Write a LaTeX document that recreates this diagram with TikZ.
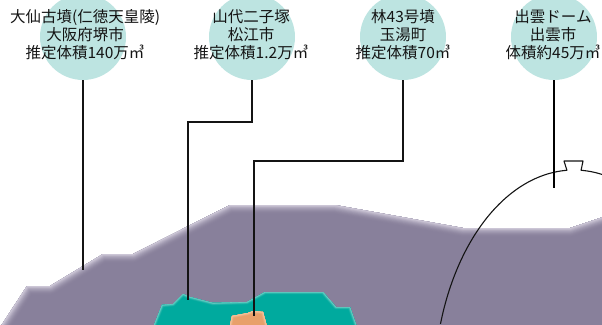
\documentclass[tikz,border=0pt]{standalone}
\usepackage{fontspec}
\newfontfamily\jp{Noto Sans CJK JP}
\usetikzlibrary{positioning}

\definecolor{bubble}{RGB}{189,228,225}
\definecolor{hill}{RGB}{136,128,155}
\definecolor{hillEdge}{RGB}{204,198,214}
\definecolor{pond}{RGB}{0,170,158}
\definecolor{pondEdge}{RGB}{110,205,196}
\definecolor{mound}{RGB}{232,160,106}
\definecolor{moundEdge}{RGB}{244,198,160}
\definecolor{ink}{RGB}{20,20,20}

% filled outline whose rim fades to a lighter colour (#4 = rim width)
\newcommand{\softshape}[4]{%
  \begin{scope}
    \clip #3;
    \fill[#1] #3;
    \foreach \i in {1,...,10}{
      \pgfmathsetmacro\w{#4*(11-\i)/5}
      \pgfmathsetmacro\m{\i*\i}
      \draw[line width=\w pt, #2!\m!#1, line join=round] #3;
    }
  \end{scope}}

\begin{document}
\begin{tikzpicture}[
  x=1pt, y=-1pt,
  bubble/.style={
    circle,
    fill=bubble,
    minimum size=86pt,
    inner sep=0pt
  },
  caption/.style={
    align=center,
    text=ink,
    inner sep=0pt,
    font=\jp\fontsize{15.5}{18}\selectfont
  },
  leader/.style={
    draw=ink,
    line width=1.1pt
  }
]
\useasboundingbox (0,0) rectangle (602,324);
\clip (0,0) rectangle (602,324);

% ground layers
\softshape{hill}{hillEdge}{(-5,335) -- (27,286) -- (50,286) -- (103,254) -- (133,254)
  -- (230,205) -- (335,205) -- (463,228) -- (570,228) -- (612,214) -- (612,335) -- cycle}
  {9}
\softshape{pond}{pondEdge}{(152,330) -- (162,305) -- (173,304) -- (183,294) -- (190,297)
  -- (213,303) -- (247,302) -- (265,292) -- (323,292) -- (336,307) -- (350,307)
  -- (358,330) -- cycle}
  {3}
\softshape{mound}{moundEdge}{(229,330) -- (232,316) -- (248,313) -- (253,311)
  -- (263,312) -- (268,330) -- cycle}
  {3}

% dome outline
\draw[ink, line width=1.1pt, line join=round]
  plot[domain=162.5:92.9, samples=60] ({574+140*cos(\x)}, {390-220*sin(\x)})
  -- (564,161) -- (583,161)
  -- plot[domain=87.1:74, samples=20] ({574+140*cos(\x)}, {390-220*sin(\x)});

% bubbles
\node[bubble] (daisen) at (83,37) {};
\node[bubble] (yamashiro) at (252,37) {};
\node[bubble] (hayashi) at (403,37) {};
\node[bubble] (dome) at (554,37) {};

\node[caption] (daisenText) at (85,35) {大仙古墳(仁徳天皇陵)\\大阪府堺市\\推定体積140万㎥};
\node[caption] (yamashiroText) at (251,35) {山代二子塚\\松江市\\推定体積1.2万㎥};
\node[caption] (hayashiText) at (403,35) {林43号墳\\玉湯町\\推定体積70㎥};
\node[caption] (domeText) at (553,35) {出雲ドーム\\出雲市\\体積約45万㎥};

% leader lines
\coordinate (daisenEnd) at (83,270);
\coordinate (yamashiroBend) at (188,122);
\coordinate (yamashiroEnd) at (188,300);
\coordinate (hayashiBend) at (254,161);
\coordinate (hayashiEnd) at (254,316);
\coordinate (domeEnd) at (554,188);

\draw[leader] (daisen.south) -- (daisenEnd);
\draw[leader] (yamashiro.south) |- (yamashiroBend) -- (yamashiroEnd);
\draw[leader] (hayashi.south) |- (hayashiBend) -- (hayashiEnd);
\draw[leader, draw=black, line width=2.6pt] (dome.south) -- (domeEnd);

\end{tikzpicture}
\end{document}
